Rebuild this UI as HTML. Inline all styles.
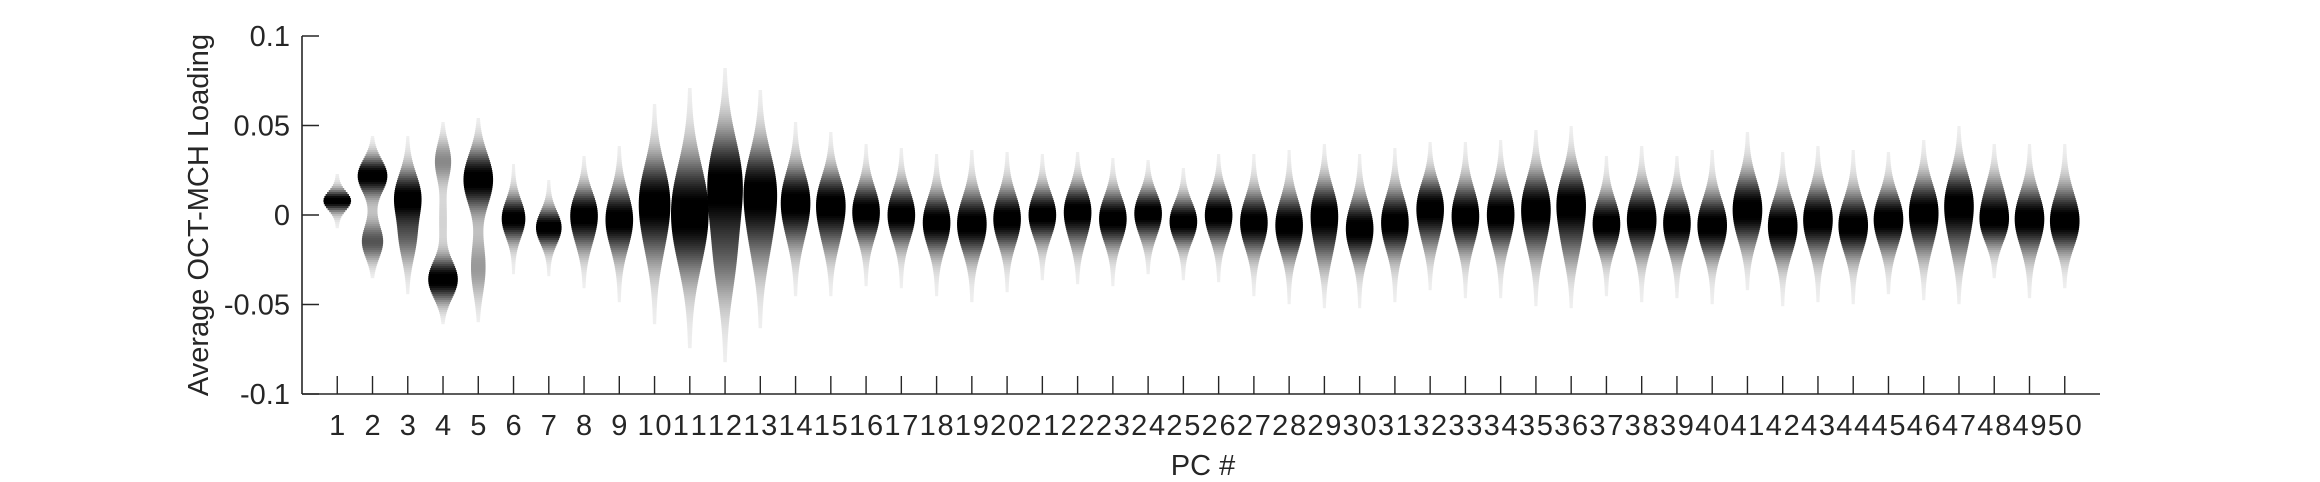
<!DOCTYPE html>
<html><head><meta charset="utf-8"><style>
body{margin:0;background:#fff}
svg{display:block;font-family:"Liberation Sans",sans-serif}
</style></head><body>
<svg id="chart" width="2320" height="482" viewBox="0 0 2320 482">
<g id="violins"></g>
<g id="axes" stroke="#262626" stroke-width="1.6" fill="none">
<line x1="302" y1="36" x2="302" y2="394"/>
<line x1="302" y1="394" x2="2100" y2="394"/>
</g>
<g id="ticks"></g>
<text x="1203" y="475" font-size="29" fill="#262626" text-anchor="middle">PC #</text>
<text transform="translate(208,215) rotate(-90)" font-size="29" fill="#262626" text-anchor="middle">Average OCT-MCH Loading</text>
</svg>
<script>
const pcs = [1,2,3,4,5,6,7,8,9,10,11,12,13,14,15,16,17,18,19,20,21,22,23,24,25,26,27,28,29,30,31,32,33,34,35,36,37,38,39,40,41,42,43,44,45,46,47,48,49,50];
const mode1 = [0.008,0.022,0.010,-0.036,0.020,-0.002,-0.007,0.002,0.000,0.010,0.008,0.018,0.015,0.010,0.008,0.004,0.002,-0.002,-0.003,0.000,0.002,0.004,0.000,0.003,-0.002,0.002,-0.002,-0.004,0.002,-0.006,-0.002,0.006,0.002,0.003,0.006,0.008,-0.003,0.000,-0.002,-0.004,0.008,-0.004,0.000,-0.004,0.000,0.004,0.008,-0.004,0.000,-0.006];
const mode2 = [0.008,-0.015,-0.012,0.030,-0.030,-0.002,-0.007,-0.010,-0.010,-0.010,-0.012,-0.020,-0.010,-0.005,-0.008,-0.005,-0.005,-0.010,-0.010,-0.008,-0.005,-0.008,-0.008,-0.006,-0.008,-0.006,-0.010,-0.010,-0.015,-0.012,-0.010,-0.008,-0.008,-0.008,-0.010,-0.012,-0.010,-0.010,-0.012,-0.010,-0.004,-0.012,-0.010,-0.010,-0.010,-0.010,-0.010,0.010,-0.008,0.005];
const weight2 = [0,0.35,0.3,0.25,0.2,0,0,0.3,0.3,0.3,0.4,0.3,0.3,0.3,0.3,0.3,0.3,0.3,0.3,0.3,0.3,0.3,0.3,0.3,0.3,0.3,0.3,0.3,0.3,0.3,0.3,0.3,0.3,0.3,0.3,0.3,0.3,0.3,0.3,0.3,0.45,0.3,0.3,0.3,0.3,0.3,0.3,0.3,0.3,0.3];
const spread = [0.004,0.007,0.010,0.008,0.011,0.008,0.007,0.009,0.011,0.015,0.018,0.019,0.016,0.012,0.011,0.010,0.010,0.010,0.011,0.010,0.009,0.009,0.009,0.008,0.008,0.009,0.010,0.011,0.011,0.011,0.011,0.010,0.011,0.011,0.012,0.012,0.010,0.011,0.010,0.011,0.011,0.011,0.011,0.011,0.010,0.011,0.012,0.009,0.011,0.010];
const halfW = [13,14,13,14,14,11,12,13,13,15,18,17,16,14,14,13,13,13,14,13,13,13,13,13,13,13,13,13,13,13,13,13,13,13,14,14,13,14,13,14,14,14,14,14,14,14,14,14,14,14];
const yTicks = [-0.1,-0.05,0,0.05,0.1];
const yLabels = ["-0.1","-0.05","0","0.05","0.1"];

const X0=302, X1=2100, Y0=36, Y1=394;
const xs = v => X0 + v/51*(X1-X0);
const ys = v => Y1 - (v+0.1)/0.2*(Y1-Y0);
const NS='http://www.w3.org/2000/svg';
const vg=document.getElementById('violins'), tg=document.getElementById('ticks');
function gauss(x,m,s){return Math.exp(-0.5*((x-m)/s)**2);}
pcs.forEach((p,i)=>{
  const g=document.createElementNS(NS,'g');
  
  
  const cx=xs(p), s=spread[i], w=weight2[i];
  let vals=[],mx=0;
  for(let y=Y0;y<Y1;y+=2){
    const v=(Y1-y-1)/(Y1-Y0)*0.2-0.1;
    const d=(1-w)*gauss(v,mode1[i],s)+w*gauss(v,mode2[i],s)+0.06*gauss(v,(mode1[i]+mode2[i])/2,s*1.9);
    vals.push([y,d]); if(d>mx)mx=d;
  }
  vals.forEach(([y,d])=>{
    d/=mx; if(d<0.008) return;
    const hw=halfW[i]*Math.pow(d,0.6)+0.8;
    const gr=Math.round(245*(1-Math.min(1,Math.pow(d,0.8)*1.05)));
    const r=document.createElementNS(NS,'rect');
    r.setAttribute('x',cx-hw);r.setAttribute('y',y);r.setAttribute('width',2*hw);r.setAttribute('height',2.2);
    r.setAttribute('fill',`rgb(${gr},${gr},${gr})`);
    g.appendChild(r);
  });
  vg.appendChild(g);
  const t=document.createElementNS(NS,'line');
  
  
  t.setAttribute('x1',cx);t.setAttribute('x2',cx);t.setAttribute('y1',Y1);t.setAttribute('y2',Y1-18);
  t.setAttribute('stroke','#262626');t.setAttribute('stroke-width','1.4');
  tg.appendChild(t);
  const l=document.createElementNS(NS,'text');
  
  
  l.setAttribute('x',cx);l.setAttribute('y',Y1+41);l.setAttribute('font-size','29');
  l.setAttribute('text-anchor','middle');l.setAttribute('fill','#262626');
  l.setAttribute('textLength',p>=10?34:16);
  l.textContent=p; tg.appendChild(l);
});
yTicks.forEach((v,i)=>{
  const y=ys(v);
  const t=document.createElementNS(NS,'line');
  
  
  t.setAttribute('x1',X0);t.setAttribute('x2',X0+17);t.setAttribute('y1',y);t.setAttribute('y2',y);
  t.setAttribute('stroke','#262626');t.setAttribute('stroke-width','1.4');
  tg.appendChild(t);
  const l=document.createElementNS(NS,'text');
  
  
  l.setAttribute('x',X0-12);l.setAttribute('y',y+10);l.setAttribute('font-size','29');
  l.setAttribute('text-anchor','end');l.setAttribute('fill','#262626');
  l.textContent=yLabels[i]; tg.appendChild(l);
});
</script>
</body></html>
